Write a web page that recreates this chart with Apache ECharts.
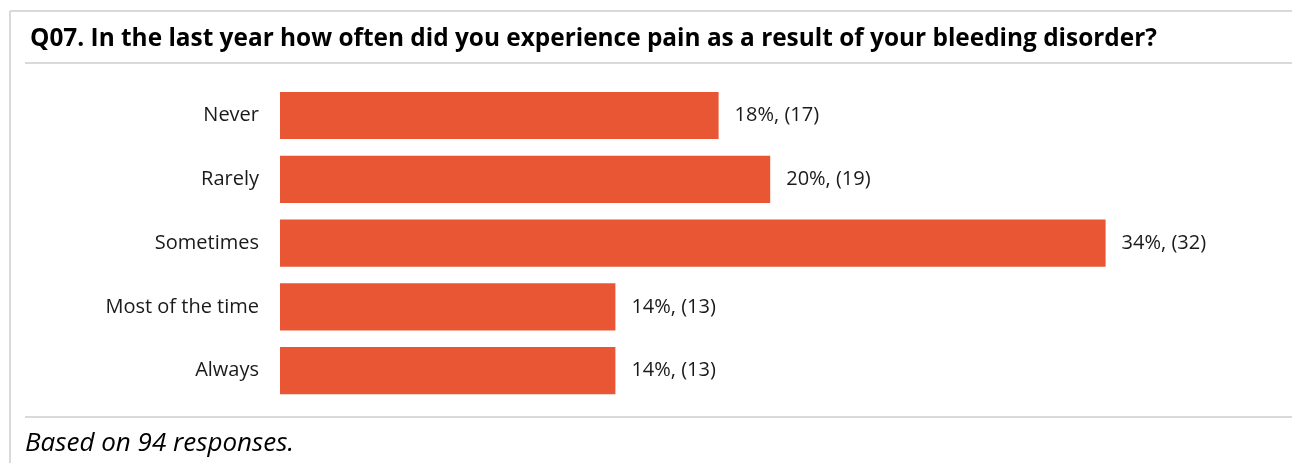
<!DOCTYPE html>
<html>
<head>
<meta charset="utf-8">
<script src="https://cdn.jsdelivr.net/npm/echarts@6/dist/echarts.min.js"></script>
<style>
html,body{margin:0;padding:0;background:#fff;}
#chart{width:1292px;height:463px;}
</style>
</head>
<body>
<div id="chart"></div>
<script>
const titleText = 'Q07. In the last year how often did you experience pain as a result of your bleeding disorder?';
const footnote = 'Based on 94 responses.';
const categories = ['Never', 'Rarely', 'Sometimes', 'Most of the time', 'Always'];
const counts = [17, 19, 32, 13, 13];
const percents = ['18%', '20%', '34%', '14%', '14%'];

const chart = echarts.init(document.getElementById('chart'), null, {renderer: 'canvas'});
const FONT = '"Open Sans", sans-serif';
const borderColor = '#D9D9D9';

chart.setOption({
  backgroundColor: '#ffffff',
  animation: false,
  title: {
    text: titleText,
    left: 25,
    top: 22,
    textStyle: {fontFamily: FONT, fontWeight: 'bold', fontSize: 24.4, color: '#000000'}
  },
  grid: {left: 280, right: 109, top: 83.6, bottom: 60.4, containLabel: false},
  xAxis: {
    type: 'value', min: 0, max: 35, show: false
  },
  yAxis: {
    type: 'category',
    data: categories,
    inverse: true,
    axisLine: {show: false},
    axisTick: {show: false},
    axisLabel: {margin: 21, fontFamily: FONT, fontSize: 20, color: '#1a1a1a'}
  },
  series: [{
    type: 'bar',
    data: counts,
    barCategoryGap: '26%',
    itemStyle: {color: '#E95634'},
    label: {
      show: true,
      position: 'right',
      distance: 16,
      fontFamily: FONT,
      fontSize: 20,
      color: '#1a1a1a',
      formatter: p => percents[p.dataIndex] + ', (' + counts[p.dataIndex] + ')'
    }
  }],
  graphic: [
    {type: 'line', shape: {x1: 10, y1: 11, x2: 1292, y2: 11}, style: {stroke: borderColor, lineWidth: 2}},
    {type: 'line', shape: {x1: 10, y1: 11, x2: 10, y2: 463}, style: {stroke: borderColor, lineWidth: 2}},
    {type: 'line', shape: {x1: 25, y1: 63, x2: 1292, y2: 63}, style: {stroke: borderColor, lineWidth: 2}},
    {type: 'line', shape: {x1: 25, y1: 417, x2: 1292, y2: 417}, style: {stroke: borderColor, lineWidth: 2}},
    {type: 'text', left: 25, top: 431, style: {text: footnote, font: 'italic 26px ' + FONT, fill: '#000000'}}
  ]
});
</script>
</body>
</html>
